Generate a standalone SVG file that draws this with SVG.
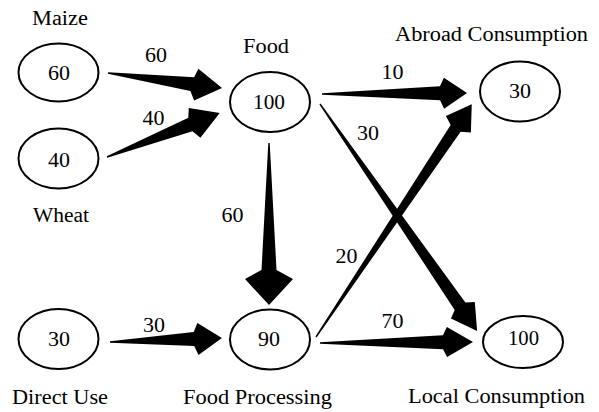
<svg xmlns="http://www.w3.org/2000/svg" width="599" height="412" viewBox="0 0 599 412">
<style>
ellipse{fill:#fff;stroke:#000;stroke-width:2}
.arr{fill:#000;stroke:none}
.lbl{font-size:20.5px}
</style>
<rect width="599" height="412" fill="#fff"/>
<g font-family="Liberation Serif, Times New Roman, DejaVu Serif, serif" font-size="20" text-anchor="middle" fill="#000">
<g id="connectors">
<path class="arr" transform="translate(108,73) rotate(7.5)" d="M0,-0.7 L86,-7 L89,-16 L115,0 L89,16 L84,7 L0,0.7Z"/>
<path class="arr" transform="translate(107,157) rotate(-21.3)" d="M0,-0.7 L90,-7 L94,-16 L121,0 L94,16 L89,7 L0,0.7Z"/>
<path class="arr" transform="translate(269,143) rotate(90)" d="M0,-0.7 L127,-7.5 L136,-24 L162,0 L136,24 L127,7.5 L0,0.7Z"/>
<path class="arr" transform="translate(322,94) rotate(-0.4)" d="M0,-0.7 L118,-7 L122,-15.5 L145,0 L122,15.5 L118,7 L0,0.7Z"/>
<path class="arr" transform="translate(320,104) rotate(55.3)" d="M0,-0.7 L246,-6.5 L251,-14.5 L276,0 L251,14.5 L246,6.5 L0,0.7Z"/>
<path class="arr" transform="translate(316,337) rotate(-56.2)" d="M0,-0.7 L251,-6 L256,-15 L280,0 L256,15 L251,6 L0,0.7Z"/>
<path class="arr" transform="translate(110,342) rotate(-2)" d="M0,-0.7 L84,-7 L88,-16 L112,0 L88,16 L84,7 L0,0.7Z"/>
<path class="arr" transform="translate(320,343) rotate(-0.4)" d="M0,-0.7 L123,-7 L127,-15 L153,0 L127,15 L123,7 L0,0.7Z"/>
<text x="156" y="62" textLength="22" lengthAdjust="spacingAndGlyphs">60</text>
<text x="153.5" y="125" textLength="22" lengthAdjust="spacingAndGlyphs">40</text>
<text x="392.5" y="79" textLength="22" lengthAdjust="spacingAndGlyphs">10</text>
<text x="368" y="140" textLength="22" lengthAdjust="spacingAndGlyphs">30</text>
<text x="232.5" y="222" textLength="22" lengthAdjust="spacingAndGlyphs">60</text>
<text x="154" y="332" textLength="22" lengthAdjust="spacingAndGlyphs">30</text>
<text x="346.5" y="263" textLength="22" lengthAdjust="spacingAndGlyphs">20</text>
<text x="392.5" y="328" textLength="22" lengthAdjust="spacingAndGlyphs">70</text>
</g>
<g id="maize">
<ellipse cx="58.5" cy="72.5" rx="40" ry="29"/>
<text x="59" y="80" textLength="22" lengthAdjust="spacingAndGlyphs">60</text>
<text class="lbl" x="60" y="25" textLength="56" lengthAdjust="spacingAndGlyphs">Maize</text>
</g>
<g id="wheat">
<ellipse cx="58.5" cy="158.5" rx="40" ry="30"/>
<text x="59" y="167" textLength="22" lengthAdjust="spacingAndGlyphs">40</text>
<text class="lbl" x="61" y="222" textLength="56" lengthAdjust="spacingAndGlyphs">Wheat</text>
</g>
<g id="food">
<ellipse cx="270" cy="102" rx="40" ry="30"/>
<text x="269" y="109" textLength="32" lengthAdjust="spacingAndGlyphs">100</text>
<text class="lbl" x="266" y="53" textLength="46" lengthAdjust="spacingAndGlyphs">Food</text>
</g>
<g id="abroad">
<ellipse cx="520" cy="91.5" rx="40" ry="30"/>
<text x="520" y="98" textLength="22" lengthAdjust="spacingAndGlyphs">30</text>
<text class="lbl" x="491.5" y="41" textLength="193" lengthAdjust="spacingAndGlyphs">Abroad Consumption</text>
</g>
<g id="direct">
<ellipse cx="58.5" cy="339" rx="40" ry="30"/>
<text x="59" y="346" textLength="22" lengthAdjust="spacingAndGlyphs">30</text>
<text class="lbl" x="60" y="404" textLength="96" lengthAdjust="spacingAndGlyphs">Direct Use</text>
</g>
<g id="processing">
<ellipse cx="270" cy="339.5" rx="40" ry="30"/>
<text x="269" y="346" textLength="22" lengthAdjust="spacingAndGlyphs">90</text>
<text class="lbl" x="257.5" y="404" textLength="149" lengthAdjust="spacingAndGlyphs">Food Processing</text>
</g>
<g id="local">
<ellipse cx="523" cy="342" rx="40" ry="26"/>
<text x="523.5" y="345" textLength="31" lengthAdjust="spacingAndGlyphs">100</text>
<text class="lbl" x="496.5" y="403" textLength="177" lengthAdjust="spacingAndGlyphs">Local Consumption</text>
</g>
</g>
</svg>
